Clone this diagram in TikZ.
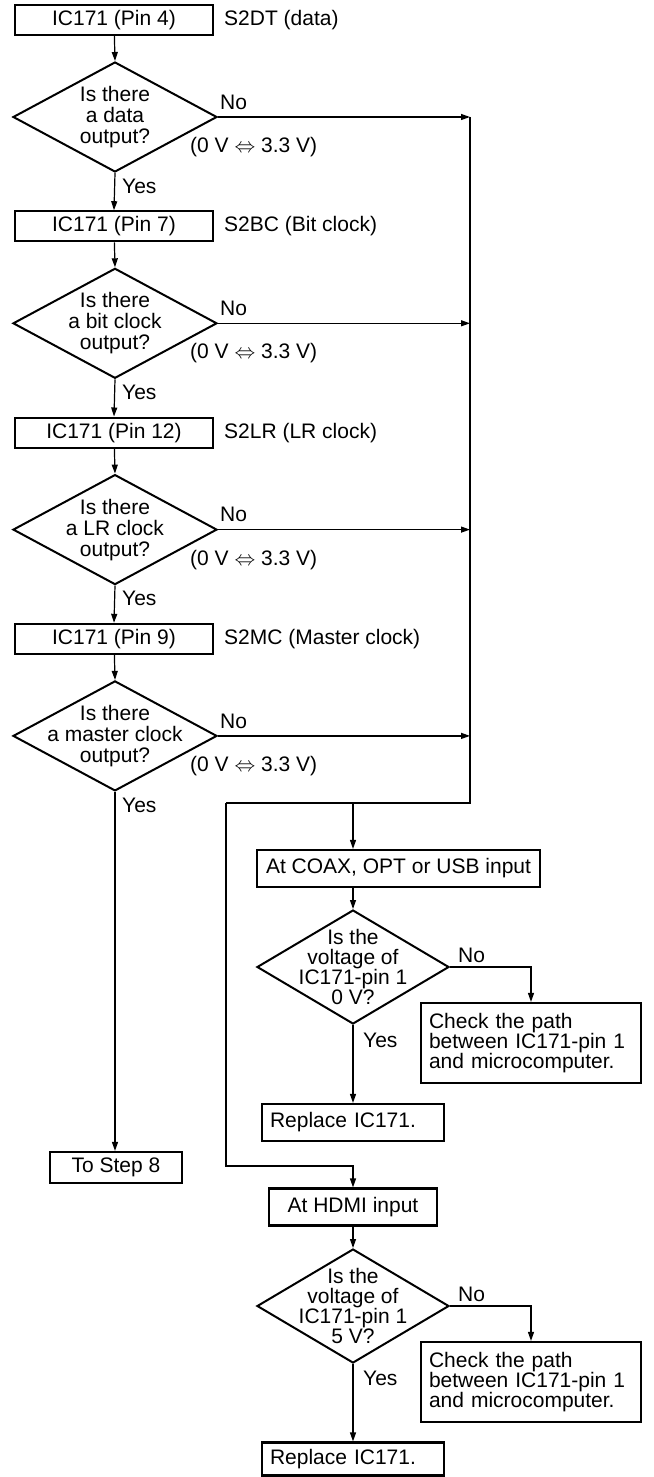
\documentclass[tikz,border=0pt]{standalone}
\usepackage{fontspec}
\setmainfont{Liberation Sans}
\usetikzlibrary{arrows.meta,shapes.geometric}
\newcommand{\fsz}{\fontsize{21pt}{21pt}\selectfont}
\newcommand{\fszb}{\fontsize{21pt}{20pt}\selectfont}
\tikzset{
  fbox/.style={draw, line width=2.2pt, inner sep=0pt, font=\fsz},
  dia/.style={draw, diamond, line width=2pt, inner sep=0pt},
  dtext/.style={align=center, font=\fsz, inner sep=0pt},
  lbl/.style={font=\fsz, inner sep=0pt, anchor=west},
  conn/.style={line width=1.2pt},
  arr/.style={conn, -{Stealth[length=9pt,width=6pt,inset=0pt]}}
}
\begin{document}
\begin{tikzpicture}[x=1pt,y=-1pt]
\useasboundingbox (0,0) rectangle (653,1477);
% ---- left column ----
\node[fbox, minimum width=198pt, minimum height=30pt] (b1) at (114,20) {IC171 (Pin 4)};
\node[lbl] (s1) at (224,20) {S2DT (data)};
\node[dia, minimum width=204pt, minimum height=110pt] (d1) at (115,117) {};
\node[dtext] (d1t) at (115,117) {Is there\\a data\\output?};
\node[lbl] (n1) at (220,102) {No};
\node[lbl] (v1) at (190,147) {(0 V $\Leftrightarrow$ 3.3 V)};
\node[lbl] (y1) at (122,186) {Yes};

\node[fbox, minimum width=198pt, minimum height=30pt] (b2) at (114,226.3) {IC171 (Pin 7)};
\node[lbl] (s2) at (224,226.3) {S2BC (Bit clock)};
\node[dia, minimum width=204pt, minimum height=110pt] (d2) at (115,323.3) {};
\node[dtext] (d2t) at (115,323.3) {Is there\\a bit clock\\output?};
\node[lbl] (n2) at (220,308.3) {No};
\node[lbl] (v2) at (190,353.3) {(0 V $\Leftrightarrow$ 3.3 V)};
\node[lbl] (y2) at (122,392.3) {Yes};

\node[fbox, minimum width=198pt, minimum height=30pt] (b3) at (114,432.6) {IC171 (Pin 12)};
\node[lbl] (s3) at (224,432.6) {S2LR (LR clock)};
\node[dia, minimum width=204pt, minimum height=110pt] (d3) at (115,529.6) {};
\node[dtext] (d3t) at (115,529.6) {Is there\\a LR clock\\output?};
\node[lbl] (n3) at (220,514.6) {No};
\node[lbl] (v3) at (190,559.6) {(0 V $\Leftrightarrow$ 3.3 V)};
\node[lbl] (y3) at (122,598.6) {Yes};

\node[fbox, minimum width=198pt, minimum height=30pt] (b4) at (114,638.9) {IC171 (Pin 9)};
\node[lbl] (s4) at (224,638.9) {S2MC (Master clock)};
\node[dia, minimum width=204pt, minimum height=110pt] (d4) at (115,735.9) {};
\node[dtext] (d4t) at (115,735.9) {Is there\\a master clock\\output?};
\node[lbl] (n4) at (220,720.9) {No};
\node[lbl] (v4) at (190,765.9) {(0 V $\Leftrightarrow$ 3.3 V)};
\node[lbl] (y4) at (122,804.9) {Yes};

\node[fbox, minimum width=132pt, minimum height=31pt] (st8) at (116,1167.5) {To Step 8};

\draw[arr] (b1) -- (d1.north);
\draw[arr] (d1.south) -- (b2.north);
\draw[arr] (b2) -- (d2.north);
\draw[arr] (d2.south) -- (b3.north);
\draw[arr] (b3) -- (d3.north);
\draw[arr] (d3.south) -- (b4.north);
\draw[arr] (b4) -- (d4.north);
\draw[arr] (d4.south) -- (d4.south |- st8.north);

% ---- bus ----
\coordinate (bustop) at (470,117);
\coordinate (busbot) at (470,803);
\coordinate (split) at (353,803);
\coordinate (loopL) at (226,803);
\coordinate (loopB) at (226,1166);
\draw[conn] (bustop) -- (busbot) -- (loopL);
\draw[arr] (d1.east) -- (d1.east -| bustop);
\draw[arr] (d2.east) -- (d2.east -| bustop);
\draw[arr] (d3.east) -- (d3.east -| bustop);
\draw[arr] (d4.east) -- (d4.east -| bustop);

% ---- right column ----
\node[fbox, minimum width=283pt, minimum height=37pt] (coax) at (398.5,868.5) {At COAX, OPT or USB input};
\draw[arr] (split) -- (split |- coax.north);
\node[dia, minimum width=192pt, minimum height=114pt] (d5) at (353,967) {};
\node[dtext, font=\fszb] (d5t) at (353,967) {Is the\\voltage of\\IC171-pin 1\\0 V?};
\draw[arr] (coax.south -| d5.north) -- (d5.north);
\node[lbl] (n5) at (458,955) {No};
\node[lbl] (y5) at (363,1040) {Yes};
\node[fbox, minimum width=220pt, minimum height=80pt, text width=204pt, align=left, inner xsep=8pt, font=\fszb] (c1) at (531,1043) {Check the path\\between IC171-pin 1\\and microcomputer.};
\draw[arr] (d5.east) -| (c1.north);
\node[fbox, minimum width=182pt, minimum height=37pt, text width=166pt, align=left, inner xsep=8pt] (r1) at (353,1122.5) {Replace IC171.};
\draw[arr] (d5.south) -- (r1.north);

\node[fbox, minimum width=168pt, minimum height=37pt] (hdmi) at (353,1207) {At HDMI input};
\draw[arr] (loopL) -- (loopB) -| (hdmi.north);
\node[dia, minimum width=192pt, minimum height=114pt] (d6) at (353,1306) {};
\node[dtext, font=\fszb] (d6t) at (353,1306) {Is the\\voltage of\\IC171-pin 1\\5 V?};
\draw[arr] (hdmi.south) -- (d6.north);
\node[lbl] (n6) at (458,1294) {No};
\node[lbl] (y6) at (363,1378) {Yes};
\node[fbox, minimum width=220pt, minimum height=80pt, text width=204pt, align=left, inner xsep=8pt, font=\fszb] (c2) at (531,1382) {Check the path\\between IC171-pin 1\\and microcomputer.};
\draw[arr] (d6.east) -| (c2.north);
\node[fbox, minimum width=182pt, minimum height=33pt, text width=166pt, align=left, inner xsep=8pt] (r2) at (353,1459) {Replace IC171.};
\draw[arr] (d6.south) -- (r2.north);
\end{tikzpicture}
\end{document}
